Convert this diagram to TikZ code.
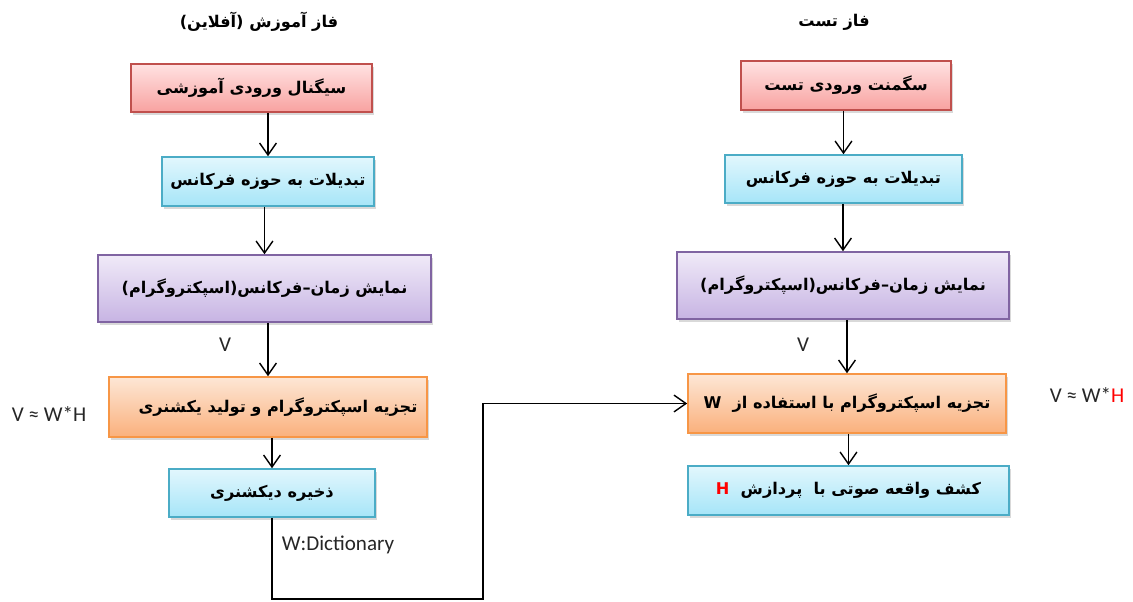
\documentclass[tikz,border=0pt]{standalone}
\usepackage{fontspec}
\setmainfont{Carlito}
\newfontfamily\farsi[Script=Arabic]{DejaVu Sans}
\TeXXeTstate=1
\usepackage{xcolor}
\usetikzlibrary{arrows.meta,shadows}
\definecolor{redline}{HTML}{C0504D}
\definecolor{redtop}{HTML}{FFE2E2}
\definecolor{redbot}{HTML}{F8A2A0}
\definecolor{cyanline}{HTML}{4BACC6}
\definecolor{cyantop}{HTML}{E2F7FD}
\definecolor{cyanbot}{HTML}{A6E5F8}
\definecolor{purline}{HTML}{8064A2}
\definecolor{purtop}{HTML}{F0EAF8}
\definecolor{purbot}{HTML}{C7B4E3}
\definecolor{orline}{HTML}{F79646}
\definecolor{ortop}{HTML}{FDE7D6}
\definecolor{orbot}{HTML}{FAB07C}
\definecolor{hred}{HTML}{FF0000}

\begin{document}
\begin{tikzpicture}[
  x=0.025cm,y=-0.025cm,
  box/.style={draw,line width=1.1pt,align=center,inner sep=3pt,
              font=\farsi\bfseries\fontsize{11.5}{14}\selectfont,
              drop shadow={shadow xshift=0.6mm,shadow yshift=-0.8mm,opacity=0.3}},
  redbox/.style={box,draw=redline,top color=redtop,bottom color=redbot},
  cyanbox/.style={box,draw=cyanline,top color=cyantop,bottom color=cyanbot},
  purbox/.style={box,draw=purline,top color=purtop,bottom color=purbot},
  orbox/.style={box,draw=orline,top color=ortop,bottom color=orbot},
  lbl/.style={font=\fontsize{15}{17}\selectfont,text=black!85},
  title/.style={font=\farsi\bfseries\fontsize{11.5}{14}\selectfont},
  arr/.style={-{Straight Barb[length=3mm,width=4.2mm]},line width=1pt}
]
\useasboundingbox (0,0) rectangle (1133,601);
% training phase
\node[title] (ttrain) at (259,22) {\beginR فاز آموزش (آفلاین)\endR};
\node[redbox,minimum width=6.025cm,minimum height=1.2cm] (lsig) at (251.5,88) {\beginR سیگنال ورودی آموزشی\endR};
\node[cyanbox,minimum width=5.3cm,minimum height=1.225cm] (lfreq) at (268,181.5) {\beginR تبدیلات به حوزه فرکانس\endR};
\node[purbox,minimum width=8.325cm,minimum height=1.675cm] (lspec) at (264.5,288.5) {\beginR نمایش زمان–فرکانس(اسپکتروگرام)\endR};
\node[orbox,minimum width=7.95cm,minimum height=1.5cm] (ldec) at (268,407) {\hspace*{0.5cm}\beginR تجزیه اسپکتروگرام و تولید یکشنری\endR};
\node[cyanbox,minimum width=5.15cm,minimum height=1.2cm] (ldict) at (272,493) {\beginR ذخیره دیکشنری\endR};
\node[lbl] (lv) at (225,345) {V};
\node[lbl] (lnmf) at (49,414) {V ≈ W*H};
\node[lbl,anchor=west] (wdict) at (277,545) {W:Dictionary};
% test phase
\node[title] (ttest) at (834,22) {\beginR فاز تست\endR};
\node[redbox,minimum width=5.25cm,minimum height=1.225cm] (rseg) at (846,85.5) {\beginR سگمنت ورودی تست\endR};
\node[cyanbox,minimum width=5.925cm,minimum height=1.2cm] (rfreq) at (843.5,179) {\beginR تبدیلات به حوزه فرکانس\endR};
\node[purbox,minimum width=8.3cm,minimum height=1.675cm] (rspec) at (843,285.5) {\beginR نمایش زمان–فرکانس(اسپکتروگرام)\endR};
\node[orbox,minimum width=7.95cm,minimum height=1.475cm] (rdec) at (847,403.5) {\textbf{W}\ \ \beginR تجزیه اسپکتروگرام با استفاده از\endR};
\node[cyanbox,minimum width=8.025cm,minimum height=1.225cm] (rdet) at (848.5,490.5) {\textcolor{hred}{\textbf{H}}\ \ \beginR کشف واقعه صوتی با \ پردازش\endR};
\node[lbl] (rv) at (803,345) {V};
\node[lbl] (rnmf) at (1087,395) {V ≈ W*\textcolor{hred}{H}};
\coordinate (turn) at (483,599);
% arrows
\draw[arr] (lfreq.north |- lsig.south) -- (lfreq.north);
\draw[arr] (lspec.north |- lfreq.south) -- (lspec.north);
\draw[arr] (ldec.north |- lspec.south) -- (ldec.north);
\draw[arr] (ldict.north |- ldec.south) -- (ldict.north);
\draw[arr] (rfreq.north |- rseg.south) -- (rfreq.north);
\draw[arr] (rspec.north |- rfreq.south) -- (rspec.north);
\draw[arr] (rdec.north |- rspec.south) -- (rdec.north);
\draw[arr] (rdet.north |- rdec.south) -- (rdet.north);
\draw[arr] (ldict.south) |- (turn) |- (rdec.west);
\end{tikzpicture}
\end{document}
